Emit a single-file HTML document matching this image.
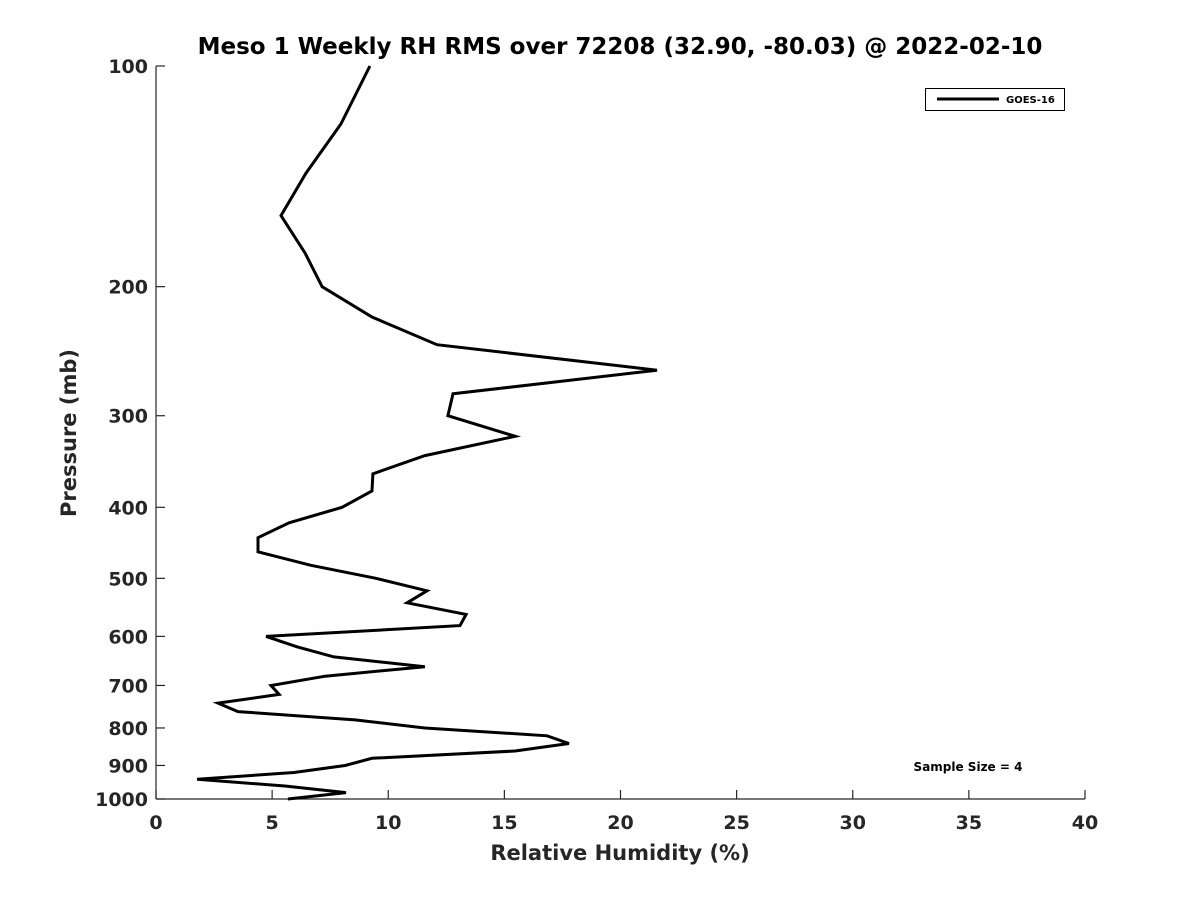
<!DOCTYPE html>
<html><head><meta charset="utf-8"><style>
body{margin:0;background:#fff}
svg{display:block;font-family:"DejaVu Sans","Liberation Sans",sans-serif;font-weight:bold}
</style></head><body>
<svg id="chart" width="1200" height="900">
<rect width="1200" height="900" fill="#fff"/>
<text x="620" y="54" text-anchor="middle" font-size="23" fill="#000">Meso 1 Weekly RH RMS over 72208 (32.90, -80.03) @ 2022-02-10</text>
<g id="axes"></g>
<text x="620" y="860" text-anchor="middle" font-size="21" fill="#262626">Relative Humidity (%)</text>
<text transform="translate(76,433) rotate(-90)" text-anchor="middle" font-size="21" fill="#262626">Pressure (mb)</text>
<path id="line" fill="none" stroke="#000" stroke-width="3" stroke-linejoin="miter"/>
<g>
<rect x="925.5" y="88.5" width="139" height="22" fill="#fff" stroke="#000" stroke-width="1"/>
<line x1="937" y1="99" x2="999" y2="99" stroke="#000" stroke-width="3"/>
<text x="1006" y="103" font-size="10" fill="#000">GOES-16</text>
</g>
<text x="968" y="771" text-anchor="middle" font-size="12" fill="#000">Sample Size = 4</text>
</svg>
<script>
const pressures=[100,120,140,160,180,200,220,240,260,280,300,320,340,360,380,400,420,440,460,480,500,520,540,560,580,600,620,640,660,680,700,720,740,760,780,800,820,840,860,880,900,920,940,960,980,1000];
const rhValues=[9.21,7.96,6.46,5.38,6.42,7.15,9.30,12.10,21.57,12.79,12.57,15.46,11.58,9.34,9.30,8.01,5.73,4.39,4.39,6.67,9.47,11.67,10.81,13.35,13.09,4.74,6.07,7.66,11.58,7.28,4.95,5.30,2.67,3.53,8.57,11.58,16.84,17.78,15.46,9.30,8.14,5.94,1.77,5.55,8.18,5.68];
const xTicks=[0,5,10,15,20,25,30,35,40];
const yTicks=[100,200,300,400,500,600,700,800,900,1000];
const X0=156,X1=1085,Y0=66,Y1=799;
const xs=v=>X0+(v-0)/(40-0)*(X1-X0);
const ys=p=>Y0+(Math.log10(p)-2)/(3-2)*(Y1-Y0);
const NS="http://www.w3.org/2000/svg";
const axes=document.getElementById('axes');
function mk(t,a){const e=document.createElementNS(NS,t);for(const k in a)e.setAttribute(k,a[k]);return e;}
const ya=mk('line',{x1:X0,y1:Y0,x2:X0,y2:Y1,stroke:'#262626','stroke-width':1.2});


axes.appendChild(ya);
const xa=mk('line',{x1:X0,y1:Y1,x2:X1,y2:Y1,stroke:'#262626','stroke-width':1.2});


axes.appendChild(xa);
xTicks.forEach(v=>{
 const x=xs(v);
 const t=mk('line',{x1:x,y1:Y1,x2:x,y2:Y1-9,stroke:'#262626','stroke-width':1.2});
 
 
 axes.appendChild(t);
 const l=mk('text',{x:x,y:Y1+30,'text-anchor':'middle','font-size':19,fill:'#262626'});
 l.textContent=v;
 
 
 axes.appendChild(l);
});
yTicks.forEach(p=>{
 const y=ys(p);
 const t=mk('line',{x1:X0,y1:y,x2:X0+9,y2:y,stroke:'#262626','stroke-width':1.2});
 
 
 axes.appendChild(t);
 const l=mk('text',{x:X0-8,y:y+7,'text-anchor':'end','font-size':19,fill:'#262626'});
 l.textContent=p;
 
 
 axes.appendChild(l);
});
document.getElementById('line').setAttribute('d',pressures.map((p,i)=>(i?'L':'M')+xs(rhValues[i]).toFixed(1)+','+ys(p).toFixed(1)).join(''));
</script>
</body></html>
